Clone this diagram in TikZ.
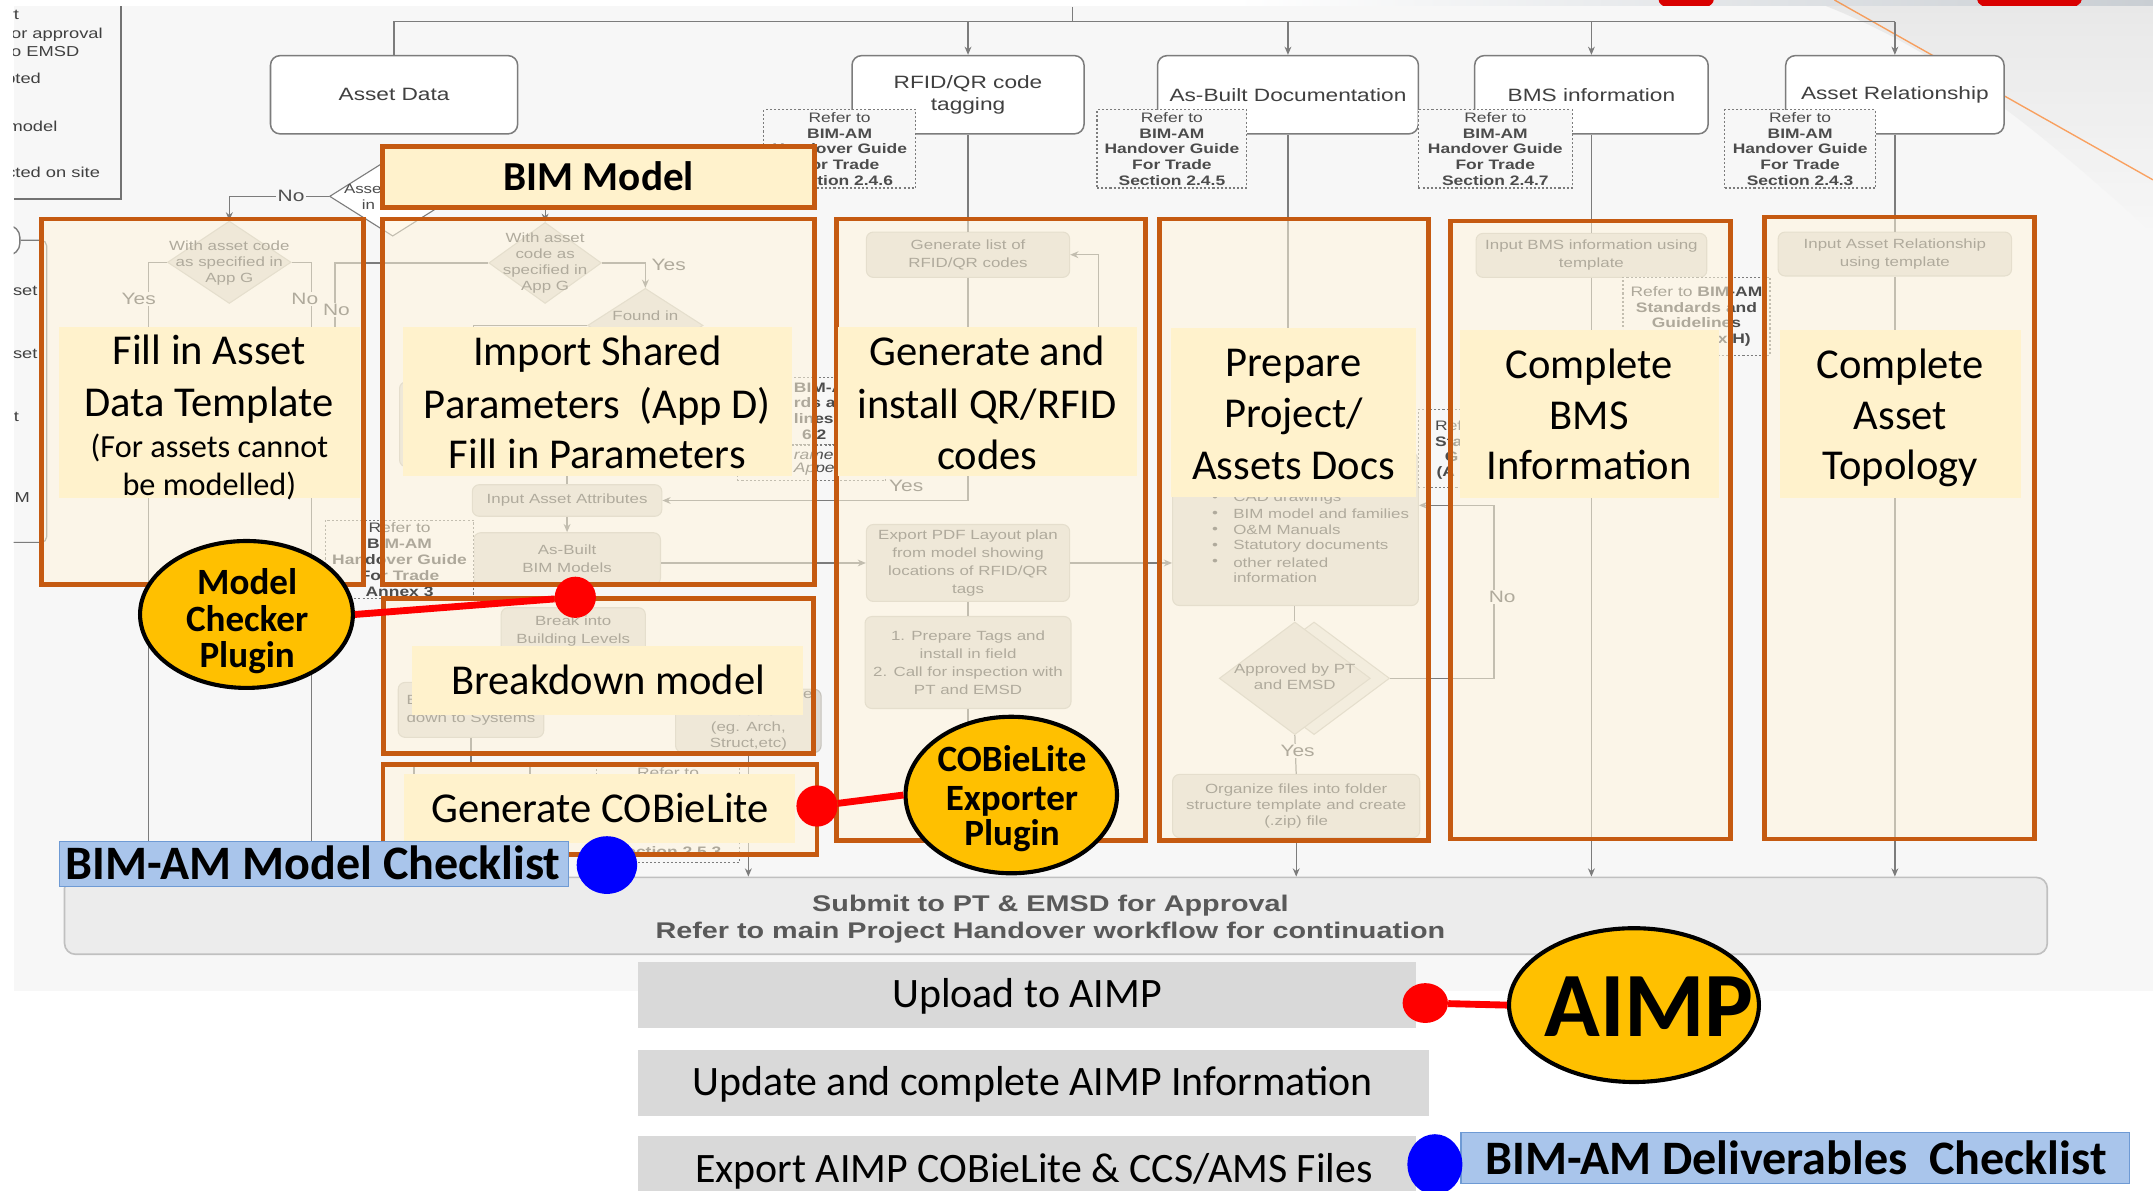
\documentclass[tikz,border=0pt]{standalone}
\usepackage{fontspec}
\setmainfont{Carlito}
\newfontfamily\flowfont[FakeStretch=1.27]{Liberation Sans}
\usetikzlibrary{arrows.meta,shapes.geometric}
\definecolor{flbg}{HTML}{F7F7F7}
\definecolor{fline}{HTML}{7C7C7C}
\definecolor{ftext}{HTML}{505050}
\definecolor{pfill}{HTML}{DCDAD4}
\definecolor{pdraw}{HTML}{C6C3BC}
\definecolor{orng}{HTML}{C55A11}
\definecolor{cream}{HTML}{FFF5DC}
\definecolor{lblfill}{HTML}{FFF2CC}
\definecolor{plugy}{HTML}{FFC000}
\definecolor{bluelab}{HTML}{A9C5EB}
\definecolor{bluedraw}{HTML}{6E9AD4}
\definecolor{greybox}{HTML}{D9D9D9}
\definecolor{subfill}{HTML}{ECECEC}
\definecolor{subdraw}{HTML}{C0C0C0}
\definecolor{slidegrey}{HTML}{C9CED3}
\newcommand{\fsz}[2]{\fontsize{#1}{#2}\selectfont}
\tikzset{
 fl/.style={draw=fline, line width=0.9pt},
 fla/.style={fl, -{Stealth[length=6pt,width=5pt]}},
 topbox/.style={draw=fline, line width=1.1pt, fill=white, rounded corners=7pt, inner sep=0pt, align=center, font=\flowfont\fsz{13}{16}, text=black!75},
 proc/.style={draw=pdraw, line width=0.8pt, fill=pfill, rounded corners=5pt, inner sep=0pt, align=center, font=\flowfont\fsz{9.7}{13}, text=ftext},
 refb/.style={draw=fline, dash pattern=on 1.5pt off 1.5pt, line width=0.9pt, fill=flbg, inner sep=0pt, align=center, font=\flowfont\fsz{10}{11.5}, text=black!70},
 reft/.style={inner sep=0pt, font=\flowfont\fsz{10}{11.5}, text=black!70},
 refbt/.style={reft, anchor=west, font=\flowfont\bfseries\fsz{10}{11.5}},
 dec/.style={diamond, draw=pdraw, line width=0.8pt, fill=pfill, inner sep=0pt},
 dtext/.style={inner sep=0pt, align=center, font=\flowfont\fsz{9.7}{11.7}, text=ftext},
 ylab/.style={inner sep=1pt, font=\flowfont\fsz{12}{14}, text=ftext, fill=flbg},
 btxt/.style={inner sep=0pt, font=\flowfont\fsz{9.7}{11.6}, text=ftext, anchor=west},
 legt/.style={inner sep=0pt, font=\flowfont\fsz{10.5}{12}, text=black!75, anchor=base east},
 stage/.style={draw=orng, line width=3.5pt, fill=cream, fill opacity=0.55, inner sep=0pt},
 lbl/.style={fill=lblfill, inner sep=0pt},
 ltxt/.style={inner sep=0pt, anchor=base, font=\fsz{31}{37}},
 plug/.style={ellipse, draw=black, line width=3pt, fill=plugy, inner sep=0pt},
 ptxt/.style={inner sep=0pt, anchor=base, font=\bfseries\fsz{27}{27}},
 rdot/.style={ellipse, fill=red, inner sep=0pt},
 bdot/.style={ellipse, fill=blue, inner sep=0pt},
 bluel/.style={fill=bluelab, draw=bluedraw, line width=1pt, inner sep=0pt},
 bluet/.style={inner sep=0pt, anchor=base, font=\bfseries\fsz{35}{40}},
 gbox/.style={fill=greybox, inner sep=0pt},
 gtxt/.style={inner sep=0pt, anchor=base, font=\fsz{30.5}{36}},
 rline/.style={draw=red, line width=5pt},
 subt/.style={inner sep=0pt, anchor=base, font=\flowfont\bfseries\fsz{16.5}{20}, text=black!65},
}
\begin{document}
\begin{tikzpicture}[x=1pt,y=-1pt]
\useasboundingbox (0,0) rectangle (1568,867);
\fill[white] (0,0) rectangle (1568,867);
% slide background strip above the flowchart (top right)
\shade[left color=white, right color=slidegrey] (900,0) rectangle (1568,4.5);
\begin{scope}
\clip (0,0) rectangle (1568,4.5);
\fill[red!85!black] (1228,0) ellipse [x radius=20, y radius=8];
\fill[red!85!black] (1478,0) ellipse [x radius=38, y radius=10];
\end{scope}
\fill[flbg] (10,4.5) rectangle (1568,722);
% faint grey swoosh of the slide behind the flowchart (top right)
\shade[top color=gray!22, bottom color=flbg, opacity=0.7] (1330,4.5) -- (1568,4.5) -- (1568,170) .. controls (1490,100) and (1420,40) .. (1330,4.5);
\draw[orange!85!red, opacity=0.6, line width=1pt] (1336,0) -- (1568,131);

% ---------- legend (cut at left) ----------
\begin{scope}
\clip (10,0) rectangle (300,722);
\draw[draw=black!55, line width=1pt] (88,4.5) -- (88,145) -- (10,145);
\node[legt] (lg1) at (14,14) {Start};
\node[legt] (lg2) at (75,28) {for approval};
\node[legt] (lg3) at (58,41) {to EMSD};
\node[legt] (lg4) at (30,61) {Accepted};
\node[legt] (lg5) at (42,96) {BIM model};
\node[legt] (lg6) at (73,129) {Inspected on site};
\node[legt] (lg7) at (27.5,215) {Asset};
\node[legt] (lg8) at (27.5,261) {Asset};
\node[legt] (lg9) at (14,307) {Input};
\node[legt] (lg10) at (22,366) {BIM};
\node[draw=fline, line width=1pt, fill=white, rounded corners=9pt, minimum width=60, minimum height=22, inner sep=0pt, anchor=east] (lgshape) at (15,175) {};
\coordinate (lgend) at (10,395);
\draw[fl, rounded corners=4pt] (lgshape.east) -- (34,175) |- (lgend);
\end{scope}

% ---------- top boxes ----------
\node[topbox, minimum width=180, minimum height=57] (assetdata) at (287,69) {Asset Data};
\node[topbox, minimum width=169, minimum height=57] (rfid) at (705,69) {RFID/QR code\\tagging};
\node[topbox, minimum width=190, minimum height=57] (asbuilt) at (938,69) {As-Built Documentation};
\node[topbox, minimum width=170, minimum height=57] (bms) at (1159,69) {BMS information};
\node[topbox, minimum width=159, minimum height=57] (arel) at (1380,69) {Asset Relationship};
\coordinate (topjoin) at (781,15.8);
\coordinate (topin) at (781,5);
\draw[fl] (topin) -- (topjoin);
\draw[fl] (assetdata.north) |- (topjoin) -- (topjoin -| arel.north);
\foreach \n in {rfid,asbuilt,bms,arel} \draw[fla] (topjoin -| \n.north) -- (\n.north);

% ---------- flowchart nodes ----------
\node[dec, draw=fline, fill=white, minimum width=92, minimum height=58] (dia0) at (286,143) {};
\node[dtext, text=black!70] (dia0t) at (281,143) {Asset code\\in BIM};
\node[dec, minimum width=90, minimum height=60] (dia1) at (167,191) {};
\node[dtext] (dia1t) at (167,191.5) {With asset code\\as specified in\\App G};
\node[dec, minimum width=82, minimum height=59] (dia2) at (397,191.5) {};
\node[dtext] (dia2t) at (397,191.5) {With asset\\code as\\specified in\\App G};
\node[dec, minimum width=84, minimum height=54] (dia3) at (470,237) {};
\node[dtext] (dia3t) at (470,230) {Found in};
\node[proc, minimum width=244, minimum height=62] (hidimp) at (413,309) {};
\node[proc, minimum width=138, minimum height=23] (inattr) at (413,364.5) {Input Asset Attributes};
\node[proc, minimum width=136, minimum height=38] (asbim) at (413,407) {As-Built\\BIM Models};
\node[refb, minimum width=108, minimum height=57] (annex) at (291,407.5) {Refer to\\\textbf{BIM-AM}\\\textbf{Handover Guide}\\\textbf{For Trade}\\\textbf{Annex 3}};
\node[refb, minimum width=108, minimum height=49] (sref1) at (591,299.5) {};
\node[refb, minimum width=108, minimum height=26] (sref2) at (591,337) {};
\node[refbt] (sra) at (578,282.6) {BIM-A};
\node[refbt] (srb) at (578,293.5) {rds a};
\node[refbt] (src) at (578,304.6) {lines};
\node[refbt] (srd) at (584,316.7) {6.2};
\node[reft, anchor=west, font=\flowfont\itshape\fsz{10}{11.5}] (sre) at (578,331.4) {ramet};
\node[reft, anchor=west, font=\flowfont\itshape\fsz{10}{11.5}] (srf) at (578,341.6) {Appe};

\node[proc, minimum width=148, minimum height=33] (genlist) at (705,185.5) {Generate list of\\RFID/QR codes};
\node[dec, minimum width=100, minimum height=80] (rdia) at (705,292) {};
\node[proc, minimum width=148, minimum height=56] (export) at (705,410) {Export PDF Layout plan\\from model showing\\locations of RFID/QR\\tags};
\node[proc, minimum width=150, minimum height=67] (prep) at (705,482.5) {1. Prepare Tags and\\install in field\\2. Call for inspection with\\PT and EMSD};

\node[proc, minimum width=179, minimum height=111] (docs) at (943.5,385.5) {};
\foreach \t/\yy in {CAD drawings/363, BIM model and families/374.5, O\&M Manuals/386, Statutory documents/398, other related/409.6, information/421}{
  \node[btxt] at (898,\yy) {\t};}
\foreach \yy in {363,374.5,386,398,409.6}{\node[btxt, anchor=center] at (885,\yy) {\textbullet};}
\node[refb, minimum width=107, minimum height=57] (pref) at (1086.5,326.5) {};
\node[reft, anchor=west] (prefa) at (1045,310) {Refe};
\node[refbt] (prefb) at (1045,321.5) {Sta};
\node[refbt] (prefc) at (1052,333) {G};
\node[refbt] (prefd) at (1046,344.5) {(A};
\node[dec, fill=pfill!70, minimum width=110, minimum height=82] (apprsh) at (957,494) {};
\node[dec, minimum width=110, minimum height=82] (appr) at (943,494) {};
\node[dtext] (apprt) at (943,493) {Approved by PT\\and EMSD};
\node[proc, minimum width=180, minimum height=46] (org) at (944,587) {};
\node[dtext] (orgt) at (944,587) {Organize files into folder\\structure template and create\\(.zip) file};

\node[proc, minimum width=168, minimum height=32] (inbms) at (1159,186) {Input BMS information using\\template};
\node[refb, minimum width=107, minimum height=57] (bref) at (1235.5,230.5) {Refer to \textbf{BIM-AM}\\\textbf{Standards and}\\\textbf{Guidelines}\\\textbf{(Appendix H)}};
\node[proc, minimum width=170, minimum height=32] (inar) at (1380,185) {Input Asset Relationship\\using template};

\node[proc, minimum width=105, minimum height=34] (brk) at (417.5,459.6) {Break into\\Building Levels};
\node[proc, minimum width=106, minimum height=40, align=left] (bdsys) at (343,517) {Break\\down to Systems};
\node[proc, minimum width=106, minimum height=46] (bdsep) at (545,525) {};
\node[dtext] (bdsept) at (545,530) {models\\(eg. Arch,\\Struct,etc)};
\node[dtext, anchor=east] (bdsepe) at (592,506) {e};
\node[refb, minimum width=104, minimum height=71] (cref) at (486.5,592.5) {};
\node[reft] (crefa) at (486.5,563) {Refer to};
\node[reft, font=\flowfont\bfseries\fsz{10}{11.5}] (crefb) at (486.5,620) {Section 2.5.3};

\node[draw=subdraw, fill=subfill, rounded corners=8pt, line width=1.2pt, minimum width=1444, minimum height=56, inner sep=0pt] (submit) at (769,667) {};
\node[subt] (sub1) at (765,664) {Submit to PT \& EMSD for Approval};
\node[subt] (sub2) at (765,683.5) {Refer to main Project Handover workflow for continuation};

% ---------- flowchart connectors ----------
\coordinate (yesend) at (108,640);
\coordinate (noend) at (227,640);
\coordinate (n2) at (244,240);
\coordinate (d3l) at (345,250);
\coordinate (loopx) at (800,292);
\coordinate (prepend) at (705,560);
\coordinate (noloopx) at (1088,368);
\coordinate (splitL) at (301.5,557);
\coordinate (splitR) at (386,557);
\coordinate (splitM) at (343,557);
\draw[fla] (dia0.west) -| (dia1.north);
\draw[fla] (dia0.east) -| (dia2.north);
\draw[fl] (dia1.west) -| (yesend);
\draw[fl] (dia1.east) -| (noend);
\draw[fla] (dia2.east) -| (dia3.north);
\draw[fl] (dia2.west) -| (n2);
\draw[fl] (dia3.west) -| (d3l);
\draw[fl] (hidimp.south) -- (inattr.north);
\draw[fla] (inattr.south) -- (asbim.north);
\draw[fla] (export.west -| asbim.east) -- (export.west);
\draw[fl] (asbim.south) -- (brk.north);
\draw[fl] (rfid.south) -- (genlist.north);
\draw[fl] (genlist.south) -- (rdia.north);
\draw[fla] (rdia.east) -- (loopx) |- (genlist.east);
\draw[fla] (rdia.south) |- (inattr.east);
\draw[fl] (export.south) -- (prep.north);
\draw[fl] (prep.south) -- (prepend);
\draw[fla] (export.east) -- (docs.west |- export.east);
\draw[fl] (asbuilt.south) -- (asbuilt.south |- docs.north);
\draw[fl] (docs.south -| appr.north) -- (appr.north);
\draw[fla] (apprsh.east) -| (noloopx) -- (noloopx -| docs.east);
\draw[fl] (appr.south) -- (org.north);
\draw[fla] (org.south) -- (org.south |- submit.north);
\draw[fl] (bms.south) -- (inbms.north);
\draw[fla] (inbms.south) -- (inbms.south |- submit.north);
\draw[fl] (arel.south) -- (inar.north);
\draw[fla] (inar.south) -- (inar.south |- submit.north);
\draw[fl] (bdsys.south) -- (splitM);
\draw[fl] (splitL) -- (splitR);
\draw[fl] (splitL) -- ++(0,10);
\draw[fl] (splitR) -- ++(0,10);
\draw[fla] (bdsep.south) -- (bdsep.south |- submit.north);
% yes / no labels
\node[ylab] (no0) at (212,143) {No};
\node[ylab] (yes1) at (101,218) {Yes};
\node[ylab] (no1) at (222,218) {No};
\node[ylab] (no2) at (245,226) {No};
\node[ylab, fill=none] (yes2) at (487,193) {Yes};
\node[ylab, fill=none] (yes3) at (660,354) {Yes};
\node[ylab] (no4) at (1094,435) {No};
\node[ylab] (yes4) at (945,547) {Yes};
% top reference boxes
\node[refb, minimum width=111, minimum height=57] (ref1) at (611.5,108.5) {Refer to\\\textbf{BIM-AM}\\\textbf{Handover Guide}\\\textbf{For Trade}\\\textbf{Section 2.4.6}};
\node[refb, minimum width=109, minimum height=57] (ref2) at (853.5,108.5) {Refer to\\\textbf{BIM-AM}\\\textbf{Handover Guide}\\\textbf{For Trade}\\\textbf{Section 2.4.5}};
\node[refb, minimum width=112, minimum height=57] (ref3) at (1089,108.5) {Refer to\\\textbf{BIM-AM}\\\textbf{Handover Guide}\\\textbf{For Trade}\\\textbf{Section 2.4.7}};
\node[refb, minimum width=110, minimum height=57] (ref4) at (1311,108.5) {Refer to\\\textbf{BIM-AM}\\\textbf{Handover Guide}\\\textbf{For Trade}\\\textbf{Section 2.4.3}};

% ---------- orange stage boxes ----------
\node[stage, minimum width=234, minimum height=266] (st1) at (147.5,292.5) {};
\node[stage, minimum width=314.5, minimum height=266] (st2) at (435.75,292.5) {};
\node[stage, minimum width=313, minimum height=112.5] (st3) at (436,492.25) {};
\node[stage, minimum width=316, minimum height=65.5] (st4) at (437,589.75) {};
\node[stage, minimum width=225, minimum height=452.5] (st5) at (721.5,385.75) {};
\node[stage, minimum width=196, minimum height=452.5] (st6) at (942.5,385.75) {};
\node[stage, minimum width=203.5, minimum height=450] (st7) at (1158.25,386) {};
\node[stage, minimum width=196.5, minimum height=453] (st8) at (1383.25,384.5) {};
\node[draw=orng, line width=3.5pt, fill=lblfill, minimum width=314.5, minimum height=44.5, inner sep=0pt] (bimm) at (435.75,128.75) {};
\node[inner sep=0pt, anchor=base, font=\bfseries\fsz{30}{36}] (bimmt) at (436,138.5) {BIM Model};

% ---------- labels ----------
\node[lbl, minimum width=219, minimum height=125] (l1) at (152.5,300.5) {};
\node[ltxt] (l1a) at (152.5,265.5) {Fill in Asset};
\node[ltxt] (l1b) at (152.5,303) {Data Template};
\node[ltxt, font=\fsz{23.5}{28}] (l1c) at (152.5,333.5) {(For assets cannot};
\node[ltxt, font=\fsz{23.5}{28}] (l1d) at (152.5,360.5) {be modelled)};
\node[lbl, minimum width=283.5, minimum height=109] (l2) at (435,292.5) {};
\node[ltxt] (l2a) at (435,266.5) {Import Shared};
\node[ltxt] (l2b) at (435,304.5) {Parameters~ (App D)};
\node[ltxt] (l2c) at (435,341) {Fill in Parameters};
\node[lbl, minimum width=285, minimum height=50] (l3) at (442.5,495.6) {};
\node[ltxt] (l3a) at (443,505.5) {Breakdown model};
\node[lbl, minimum width=285, minimum height=50] (l4) at (436.4,589) {};
\node[ltxt] (l4a) at (437,599) {Generate COBieLite};
\node[lbl, minimum width=218, minimum height=109] (l5) at (719,292.5) {};
\node[ltxt] (l5a) at (719,266.5) {Generate and};
\node[ltxt] (l5b) at (719,304.5) {install QR/RFID};
\node[ltxt] (l5c) at (719,342) {codes};
\node[lbl, minimum width=178.5, minimum height=123] (l6) at (942,300.5) {};
\node[ltxt] (l6a) at (942,274) {Prepare};
\node[ltxt] (l6b) at (942,311.5) {Project/};
\node[ltxt] (l6c) at (942,349.5) {Assets Docs};
\node[lbl, minimum width=188.5, minimum height=123] (l7) at (1157.5,301.5) {};
\node[ltxt] (l7a) at (1157.5,276) {Complete};
\node[ltxt] (l7b) at (1157.5,313) {BMS};
\node[ltxt] (l7c) at (1157.5,349.5) {Information};
\node[lbl, minimum width=176, minimum height=123] (l8) at (1384,301.5) {};
\node[ltxt] (l8a) at (1384,276) {Complete};
\node[ltxt] (l8b) at (1384,313) {Asset};
\node[ltxt] (l8c) at (1384,349.5) {Topology};

% ---------- plugins, dots, checklists ----------
\node[plug, minimum width=155, minimum height=107] (mc) at (179.5,447.5) {};
\node[rdot, minimum width=30, minimum height=30] (rd1) at (419,435) {};
\draw[rline] (mc.east) -- (rd1);
\node[ptxt] (mct1) at (180,433) {Model};
\node[ptxt] (mct2) at (180,460) {Checker};
\node[ptxt] (mct3) at (180,486) {Plugin};

\node[plug, minimum width=154, minimum height=114] (cx) at (736.5,579) {};
\node[rdot, minimum width=30, minimum height=30] (rd2) at (595,587) {};
\draw[rline] (rd2) -- (cx.west);
\node[ptxt] (cxt1) at (737,562) {COBieLite};
\node[ptxt] (cxt2) at (737,590) {Exporter};
\node[ptxt] (cxt3) at (737,616) {Plugin};

\node[bluel, minimum width=370.5, minimum height=32.5] (mcl) at (228.75,629.25) {};
\node[bluet] (mclt) at (228,640.5) {BIM-AM Model Checklist};
\node[bdot, minimum width=44, minimum height=42] (bd1) at (442,630) {};

% ---------- bottom steps ----------
\node[gbox, minimum width=566, minimum height=48] (up) at (748,724.5) {};
\node[gtxt] (upt) at (748,734) {Upload to AIMP};
\node[gbox, minimum width=576, minimum height=48] (upd) at (753,788.75) {};
\node[gtxt] (updt) at (752,798) {Update and complete AIMP Information};
\node[gbox, minimum width=566, minimum height=48] (expo) at (748,851) {};
\node[gtxt] (expot) at (753,861) {Export AIMP COBieLite \& CCS/AMS Files};

\node[plug, minimum width=182, minimum height=112] (aimp) at (1190,732) {};
\node[rdot, minimum width=33, minimum height=29] (rd3) at (1038,730.5) {};
\draw[rline] (rd3) -- (aimp.west);
\node[inner sep=0pt, anchor=base, font=\bfseries\fsz{67}{67}] (aimpt) at (1201,755) {AIMP};

\node[bluel, minimum width=487, minimum height=37] (dcl) at (1307.5,843.5) {};
\node[bluet] (dclt) at (1308,855) {BIM-AM Deliverables~ Checklist};
\node[bdot, minimum width=40, minimum height=44] (bd2) at (1045,848) {};
\draw[red!80!black, line width=2.5pt] (1358,872) arc[start angle=180, end angle=0, x radius=22, y radius=10];
\end{tikzpicture}
\end{document}
